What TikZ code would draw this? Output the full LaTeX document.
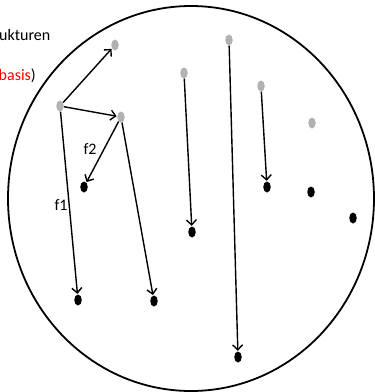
\documentclass[tikz,border=0pt]{standalone}
\usepackage{fontspec}
\setmainfont{Carlito}
\usetikzlibrary{arrows.meta,shapes.geometric}
\definecolor{srcgray}{RGB}{178,178,178}
\begin{document}
\begin{tikzpicture}[x=1pt,y=-1pt,
  src/.style={ellipse,fill=srcgray,minimum width=7.5pt,minimum height=11pt,inner sep=0pt},
  tgt/.style={ellipse,fill=black,minimum width=7.5pt,minimum height=11pt,inner sep=0pt},
  arr/.style={line width=1.4pt,-{Straight Barb[length=5pt,width=10pt,line width=1.4pt]},shorten >=0.5pt},
  lbl/.style={font=\fontsize{16}{19}\selectfont,inner sep=0pt},
  bound/.style={line width=1.8pt}]
\useasboundingbox (0,0) rectangle (375,392);
\node[bound,draw,ellipse,minimum width=366pt,minimum height=385pt,inner sep=0pt] (world) at (191,198.5) {};
% texts
\node[lbl,anchor=base west] (t1) at (-1,40) {ukturen};
\node[lbl,anchor=base west] (t2) at (-1.5,80) {\textcolor{red}{basis})};
% source dots
\node[src] (a) at (60,106) {};
\node[src] (b) at (115,45) {};
\node[src] (c) at (121,117) {};
\node[src] (d) at (184,73) {};
\node[src] (e) at (229,40) {};
\node[src] (g) at (261,86) {};
\node[src] (h) at (312,123) {};
% target dots
\node[tgt] (p) at (84,187) {};
\node[tgt] (q) at (78,300) {};
\node[tgt] (r) at (154,301) {};
\node[tgt] (s) at (192,232) {};
\node[tgt] (u) at (238,357) {};
\node[tgt] (v) at (267,187) {};
\node[tgt] (w) at (311,192) {};
\node[tgt] (z) at (353,218) {};
% arrows
\draw[arr] (a) -- (b);
\draw[arr] (a) -- (c);
\draw[arr] (c) -- (p);
\draw[arr] (a) -- (q);
\draw[arr] (c) -- (r);
\draw[arr] (d) -- (s);
\draw[arr] (e) -- (u);
\draw[arr] (g) -- (v);
% labels
\node[lbl,anchor=base] (f2) at (90,154) {f2};
\node[lbl,anchor=base] (f1) at (61,210) {f1};
\end{tikzpicture}
\end{document}
